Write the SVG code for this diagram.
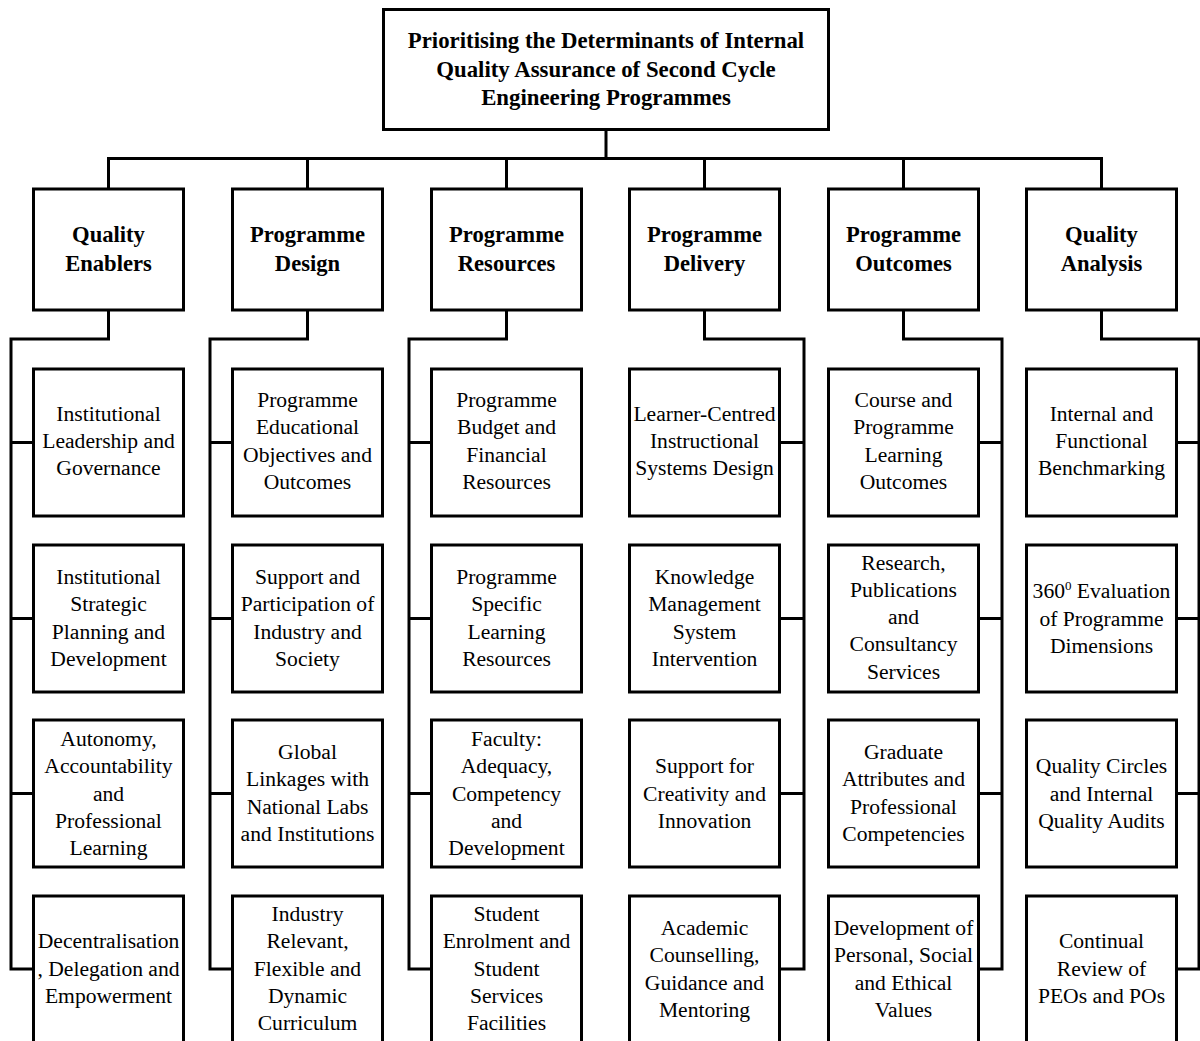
<svg xmlns="http://www.w3.org/2000/svg" width="1200" height="1041" viewBox="0 0 1200 1041">
<style>
rect{fill:#fff;stroke:#000;stroke-width:3}
.c{fill:none;stroke:#000;stroke-width:3}
text{font-family:"Liberation Serif","Times New Roman",serif;text-anchor:middle;fill:#000}
.t{font-size:22.8px;font-weight:bold}
.h{font-size:22.6px;font-weight:bold}
.n{font-size:21.6px}
</style>
<g id="connectors" class="c">
<path d="M606,129V158.5M108.5,189V158.5H1101.5V189M307.5,158.5V189M506.5,158.5V189M704.5,158.5V189M903.5,158.5V189"/>
<path d="M108.5,310V339H11V969H33M11,442.5H33M11,618.5H33M11,793.5H33"/>
<path d="M307.5,310V339H210V969H232M210,442.5H232M210,618.5H232M210,793.5H232"/>
<path d="M506.5,310V339H409V969H431M409,442.5H431M409,618.5H431M409,793.5H431"/>
<path d="M704.5,310V339H804V969H780M804,442.5H780M804,618.5H780M804,793.5H780"/>
<path d="M903.5,310V339H1002V969H979M1002,442.5H979M1002,618.5H979M1002,793.5H979"/>
<path d="M1101.5,310V339H1199V969H1177M1199,442.5H1177M1199,618.5H1177M1199,793.5H1177"/>
</g>
<g id="root"><rect x="383.5" y="9.5" width="445" height="120"/>
<text class="t" x="606" y="48">Prioritising the Determinants of Internal</text>
<text class="t" x="606" y="76.5">Quality Assurance of Second Cycle</text>
<text class="t" x="606" y="105">Engineering Programmes</text></g>

<g id="cat1"><rect x="33.5" y="189" width="150" height="121"/><text class="h" x="108.5" y="242">Quality</text><text class="h" x="108.5" y="271">Enablers</text></g>
<g id="cat2"><rect x="232.5" y="189" width="150" height="121"/><text class="h" x="307.5" y="242">Programme</text><text class="h" x="307.5" y="271">Design</text></g>
<g id="cat3"><rect x="431.5" y="189" width="150" height="121"/><text class="h" x="506.5" y="242">Programme</text><text class="h" x="506.5" y="271">Resources</text></g>
<g id="cat4"><rect x="629.5" y="189" width="150" height="121"/><text class="h" x="704.5" y="242">Programme</text><text class="h" x="704.5" y="271">Delivery</text></g>
<g id="cat5"><rect x="828.5" y="189" width="150" height="121"/><text class="h" x="903.5" y="242">Programme</text><text class="h" x="903.5" y="271">Outcomes</text></g>
<g id="cat6"><rect x="1026.5" y="189" width="150" height="121"/><text class="h" x="1101.5" y="242">Quality</text><text class="h" x="1101.5" y="271">Analysis</text></g>

<g id="c1r1"><rect x="33.5" y="369" width="150" height="147"/><text class="n"><tspan x="108.5" y="421">Institutional</tspan><tspan x="108.5" y="448">Leadership and</tspan><tspan x="108.5" y="475">Governance</tspan></text></g>
<g id="c1r2"><rect x="33.5" y="545" width="150" height="147"/><text class="n"><tspan x="108.5" y="584">Institutional</tspan><tspan x="108.5" y="611">Strategic</tspan><tspan x="108.5" y="638.5">Planning and</tspan><tspan x="108.5" y="665.5">Development</tspan></text></g>
<g id="c1r3"><rect x="33.5" y="720" width="150" height="147"/><text class="n"><tspan x="108.5" y="746">Autonomy,</tspan><tspan x="108.5" y="773">Accountability</tspan><tspan x="108.5" y="800.5">and</tspan><tspan x="108.5" y="827.5">Professional</tspan><tspan x="108.5" y="855">Learning</tspan></text></g>
<g id="c1r4"><rect x="33.5" y="896" width="150" height="150"/><text class="n"><tspan x="108.5" y="948">Decentralisation</tspan><tspan x="108.5" y="976">, Delegation and</tspan><tspan x="108.5" y="1003">Empowerment</tspan></text></g>

<g id="c2r1"><rect x="232.5" y="369" width="150" height="147"/><text class="n"><tspan x="307.5" y="407">Programme</tspan><tspan x="307.5" y="434">Educational</tspan><tspan x="307.5" y="462">Objectives and</tspan><tspan x="307.5" y="489">Outcomes</tspan></text></g>
<g id="c2r2"><rect x="232.5" y="545" width="150" height="147"/><text class="n"><tspan x="307.5" y="584">Support and</tspan><tspan x="307.5" y="611">Participation of</tspan><tspan x="307.5" y="638.5">Industry and</tspan><tspan x="307.5" y="665.5">Society</tspan></text></g>
<g id="c2r3"><rect x="232.5" y="720" width="150" height="147"/><text class="n"><tspan x="307.5" y="759">Global</tspan><tspan x="307.5" y="786">Linkages with</tspan><tspan x="307.5" y="813.5">National Labs</tspan><tspan x="307.5" y="841">and Institutions</tspan></text></g>
<g id="c2r4"><rect x="232.5" y="896" width="150" height="150"/><text class="n"><tspan x="307.5" y="921">Industry</tspan><tspan x="307.5" y="948">Relevant,</tspan><tspan x="307.5" y="976">Flexible and</tspan><tspan x="307.5" y="1003">Dynamic</tspan><tspan x="307.5" y="1030">Curriculum</tspan></text></g>

<g id="c3r1"><rect x="431.5" y="369" width="150" height="147"/><text class="n"><tspan x="506.5" y="407">Programme</tspan><tspan x="506.5" y="434">Budget and</tspan><tspan x="506.5" y="462">Financial</tspan><tspan x="506.5" y="489">Resources</tspan></text></g>
<g id="c3r2"><rect x="431.5" y="545" width="150" height="147"/><text class="n"><tspan x="506.5" y="584">Programme</tspan><tspan x="506.5" y="611">Specific</tspan><tspan x="506.5" y="638.5">Learning</tspan><tspan x="506.5" y="665.5">Resources</tspan></text></g>
<g id="c3r3"><rect x="431.5" y="720" width="150" height="147"/><text class="n"><tspan x="506.5" y="746">Faculty:</tspan><tspan x="506.5" y="773">Adequacy,</tspan><tspan x="506.5" y="800.5">Competency</tspan><tspan x="506.5" y="827.5">and</tspan><tspan x="506.5" y="855">Development</tspan></text></g>
<g id="c3r4"><rect x="431.5" y="896" width="150" height="150"/><text class="n"><tspan x="506.5" y="921">Student</tspan><tspan x="506.5" y="948">Enrolment and</tspan><tspan x="506.5" y="976">Student</tspan><tspan x="506.5" y="1003">Services</tspan><tspan x="506.5" y="1030">Facilities</tspan></text></g>

<g id="c4r1"><rect x="629.5" y="369" width="150" height="147"/><text class="n"><tspan x="704.5" y="421">Learner-Centred</tspan><tspan x="704.5" y="448">Instructional</tspan><tspan x="704.5" y="475">Systems Design</tspan></text></g>
<g id="c4r2"><rect x="629.5" y="545" width="150" height="147"/><text class="n"><tspan x="704.5" y="584">Knowledge</tspan><tspan x="704.5" y="611">Management</tspan><tspan x="704.5" y="638.5">System</tspan><tspan x="704.5" y="665.5">Intervention</tspan></text></g>
<g id="c4r3"><rect x="629.5" y="720" width="150" height="147"/><text class="n"><tspan x="704.5" y="773">Support for</tspan><tspan x="704.5" y="800.5">Creativity and</tspan><tspan x="704.5" y="827.5">Innovation</tspan></text></g>
<g id="c4r4"><rect x="629.5" y="896" width="150" height="150"/><text class="n"><tspan x="704.5" y="935">Academic</tspan><tspan x="704.5" y="962">Counselling,</tspan><tspan x="704.5" y="990">Guidance and</tspan><tspan x="704.5" y="1017">Mentoring</tspan></text></g>

<g id="c5r1"><rect x="828.5" y="369" width="150" height="147"/><text class="n"><tspan x="903.5" y="407">Course and</tspan><tspan x="903.5" y="434">Programme</tspan><tspan x="903.5" y="462">Learning</tspan><tspan x="903.5" y="489">Outcomes</tspan></text></g>
<g id="c5r2"><rect x="828.5" y="545" width="150" height="147"/><text class="n"><tspan x="903.5" y="570">Research,</tspan><tspan x="903.5" y="597">Publications</tspan><tspan x="903.5" y="624">and</tspan><tspan x="903.5" y="651">Consultancy</tspan><tspan x="903.5" y="679">Services</tspan></text></g>
<g id="c5r3"><rect x="828.5" y="720" width="150" height="147"/><text class="n"><tspan x="903.5" y="759">Graduate</tspan><tspan x="903.5" y="786">Attributes and</tspan><tspan x="903.5" y="813.5">Professional</tspan><tspan x="903.5" y="841">Competencies</tspan></text></g>
<g id="c5r4"><rect x="828.5" y="896" width="150" height="150"/><text class="n"><tspan x="903.5" y="935">Development of</tspan><tspan x="903.5" y="962">Personal, Social</tspan><tspan x="903.5" y="990">and Ethical</tspan><tspan x="903.5" y="1017">Values</tspan></text></g>

<g id="c6r1"><rect x="1026.5" y="369" width="150" height="147"/><text class="n"><tspan x="1101.5" y="421">Internal and</tspan><tspan x="1101.5" y="448">Functional</tspan><tspan x="1101.5" y="475">Benchmarking</tspan></text></g>
<g id="c6r2"><rect x="1026.5" y="545" width="150" height="147"/><text class="n"><tspan x="1101.5" y="598">360<tspan font-size="13" dy="-8">0</tspan><tspan dy="8"> Evaluation</tspan></tspan><tspan x="1101.5" y="626">of Programme</tspan><tspan x="1101.5" y="653">Dimensions</tspan></text></g>
<g id="c6r3"><rect x="1026.5" y="720" width="150" height="147"/><text class="n"><tspan x="1101.5" y="773">Quality Circles</tspan><tspan x="1101.5" y="800.5">and Internal</tspan><tspan x="1101.5" y="827.5">Quality Audits</tspan></text></g>
<g id="c6r4"><rect x="1026.5" y="896" width="150" height="150"/><text class="n"><tspan x="1101.5" y="948">Continual</tspan><tspan x="1101.5" y="976">Review of</tspan><tspan x="1101.5" y="1003">PEOs and POs</tspan></text></g>
</svg>
